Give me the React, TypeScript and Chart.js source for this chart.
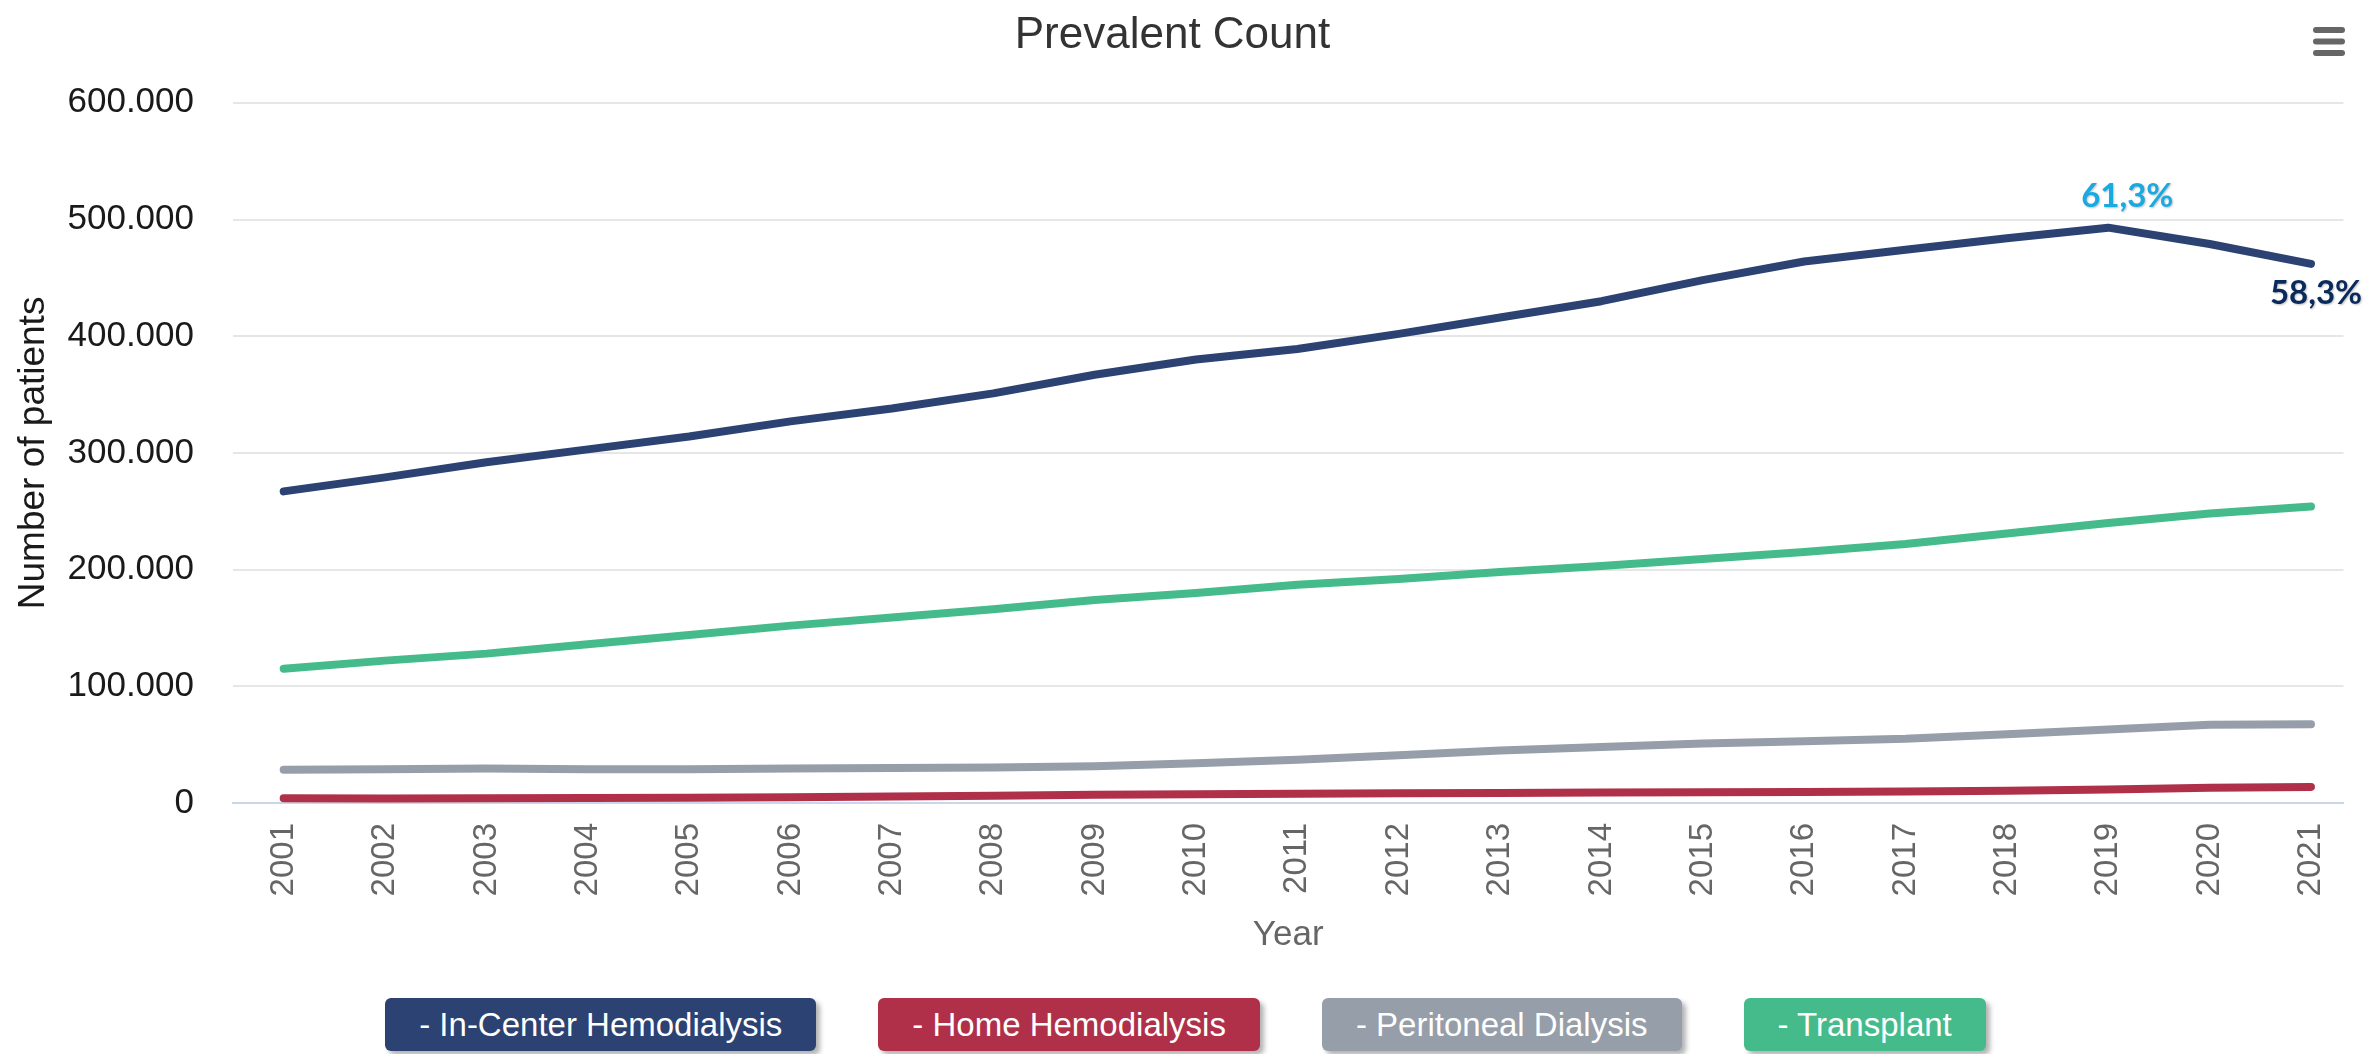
import React, { useEffect, useRef } from "react";
import { Chart, registerables } from "chart.js";

Chart.register(...registerables);

const years = [2001, 2002, 2003, 2004, 2005, 2006, 2007, 2008, 2009, 2010, 2011, 2012, 2013, 2014, 2015, 2016, 2017, 2018, 2019, 2020, 2021];

const inCenterHD = [267000, 279000, 292000, 303000, 314000, 327000, 338000, 351000, 367000, 380000, 389000, 402000, 416000, 430000, 448000, 464000, 474000, 484000, 493000, 479000, 462000];
const homeHD = [4000, 3900, 4000, 4200, 4500, 5000, 5600, 6300, 7000, 7500, 8000, 8300, 8600, 8900, 9200, 9500, 9900, 10600, 11600, 13000, 13800];
const peritoneal = [28500, 29000, 29500, 29000, 29000, 29500, 30000, 30500, 31500, 34000, 37000, 41000, 45000, 48000, 51000, 53000, 55000, 59000, 63000, 67000, 67500];
const transplant = [115000, 122000, 128000, 136000, 144000, 152000, 159000, 166000, 174000, 180000, 187000, 192000, 198000, 203000, 209000, 215000, 222000, 231000, 240000, 248000, 254000];

const seriesNames = ["- In-Center Hemodialysis", "- Home Hemodialysis", "- Peritoneal Dialysis", "- Transplant"];
const seriesColors = ["#2b4272", "#b0304a", "#959ea9", "#45bb8c"];

const yTicks = [0, 100000, 200000, 300000, 400000, 500000, 600000];

const annotationIndex = [18, 20];
const annotationText = ["61,3%", "58,3%"];
const annotationColor = ["#1ba9e1", "#0b2a5c"];

const FONT = "'Liberation Sans', Arial, Helvetica, sans-serif";

const fmt = (v: number) => String(v).replace(/\B(?=(\d{3})+(?!\d))/g, ".");

const extrasPlugin = {
  id: "extras",
  afterDatasetsDraw(chart: any) {
    const ctx = chart.ctx;
    const meta = chart.getDatasetMeta(0);
    const offsets = [
      { dx: 19, dy: -31 },
      { dx: 5, dy: 30 },
    ];
    ctx.save();
    ctx.font = "bold 33px Lato, 'Open Sans', sans-serif";
    ctx.textAlign = "center";
    ctx.textBaseline = "middle";
    annotationIndex.forEach((idx, i) => {
      const pt = meta.data[idx];
      if (!pt) return;
      ctx.shadowColor = "rgba(0,0,0,0.25)";
      ctx.shadowBlur = 2;
      ctx.shadowOffsetX = 1;
      ctx.shadowOffsetY = 1;
      ctx.fillStyle = annotationColor[i];
      ctx.fillText(annotationText[i], pt.x + offsets[i].dx, pt.y + offsets[i].dy);
    });
    ctx.restore();
    // context menu (hamburger) icon
    ctx.save();
    ctx.fillStyle = "#666666";
    for (let i = 0; i < 3; i++) {
      ctx.beginPath();
      (ctx as any).roundRect(2313, 27 + i * 11.5, 32, 6, 3);
      ctx.fill();
    }
    ctx.restore();
  },
};

export default function App() {
  const canvasRef = useRef<HTMLCanvasElement | null>(null);

  useEffect(() => {
    document.body.style.margin = "0";
    document.body.style.overflow = "hidden";
    const canvas = canvasRef.current;
    if (!canvas) return;
    const allSeries = [inCenterHD, homeHD, peritoneal, transplant];
    const chart = new Chart(canvas, {
      type: "line",
      data: {
        datasets: allSeries.map((s, i) => ({
          label: seriesNames[i],
          data: years.map((y, j) => ({ x: y, y: s[j] })),
          borderColor: seriesColors[i],
          backgroundColor: seriesColors[i],
          borderWidth: 8,
          pointRadius: 0,
          tension: 0,
          borderCapStyle: "round",
          borderJoinStyle: "round",
          fill: false,
        })),
      },
      options: {
        responsive: false,
        animation: false,
        devicePixelRatio: 1,
        layout: { padding: { left: 0, right: 26, top: 0, bottom: 0 } },
        plugins: {
          legend: { display: false },
          tooltip: { enabled: false },
          title: {
            display: true,
            text: "Prevalent Count",
            color: "#333333",
            font: { family: FONT, size: 44, weight: "normal" },
            padding: { top: 9, bottom: 41 },
          },
        },
        scales: {
          x: {
            type: "linear",
            min: 2000.5,
            max: 2021.32,
            grid: { display: false, drawTicks: false },
            border: { display: true, color: "#ccd6eb", width: 2 },
            afterFit: (scale: any) => {
              scale.height = 187;
            },
            ticks: {
              stepSize: 1,
              includeBounds: false,
              autoSkip: false,
              minRotation: 90,
              maxRotation: 90,
              padding: 20,
              color: "#666666",
              font: { family: FONT, size: 33 },
              callback: (v: any) => String(v),
            },
            title: {
              display: true,
              text: "Year",
              color: "#666666",
              font: { family: FONT, size: 35 },
              padding: { top: 0, bottom: 34 },
            },
          },
          y: {
            type: "linear",
            min: 0,
            max: 600000,
            afterFit: (scale: any) => {
              scale.width = 233;
            },
            afterBuildTicks: (scale: any) => {
              scale.ticks = yTicks.map((v) => ({ value: v }));
            },
            grid: {
              drawTicks: false,
              lineWidth: 2,
              color: (c: any) => (c.tick && c.tick.value === 0 ? "rgba(0,0,0,0)" : "#e6e6e6"),
            },
            border: { display: false },
            ticks: {
              padding: 39,
              color: "#1a1a1a",
              font: { family: FONT, size: 35 },
              callback: (v: any) => fmt(Number(v)),
            },
            title: {
              display: true,
              text: "Number of patients",
              color: "#1a1a1a",
              font: { family: FONT, size: 37 },
              padding: { top: 12, bottom: 0 },
            },
          },
        },
      } as any,
      plugins: [extrasPlugin],
    });
    return () => chart.destroy();
  }, []);

  return (
    <div style={{ position: "relative", width: 2371, height: 1054, background: "#ffffff", overflow: "hidden" }}>
      <canvas ref={canvasRef} width={2371} height={990} style={{ position: "absolute", left: 0, top: 0, width: 2371, height: 990 }} />
      <div
        style={{
          position: "absolute",
          left: 0,
          top: 998,
          width: 2371,
          display: "flex",
          justifyContent: "center",
          gap: 62,
        }}
      >
        {seriesNames.map((n, i) => (
          <div
            key={n}
            style={{
              background: seriesColors[i],
              color: "#ffffff",
              height: 53,
              lineHeight: "53px",
              padding: "0 34px",
              borderRadius: 6,
              fontFamily: FONT,
              fontSize: 33,
              whiteSpace: "nowrap",
              boxShadow: "4px 4px 5px rgba(0,0,0,0.3)",
            }}
          >
            {n}
          </div>
        ))}
      </div>
    </div>
  );
}
